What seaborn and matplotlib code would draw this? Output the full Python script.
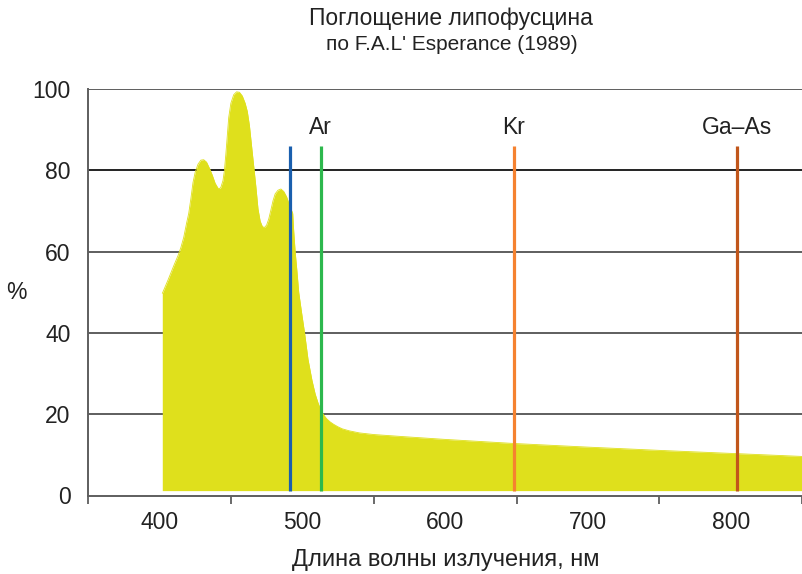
import numpy as np
import pandas as pd
import matplotlib
matplotlib.use("Agg")
import matplotlib.pyplot as plt
import seaborn as sns

# ---- data ----
wavelength = [402, 406, 410, 413, 415, 417, 419, 420.5, 422, 423.5, 425, 427, 429,
              431, 433, 435, 437, 439, 441, 442, 443, 444.5, 445.5, 446.5, 447.5,
              448.5, 450, 452, 454, 456, 458, 460, 461.5, 463, 464.5, 466, 467.5,
              469, 470.5, 472, 473.4, 475, 476.5, 478, 479.5, 481, 483, 485, 487,
              489, 491, 493.3, 494, 495, 496.3, 497.5, 499.5, 501.6, 504, 506.8,
              509, 511, 513, 515, 517, 519.5, 522, 525, 528, 533, 540, 550, 570,
              600, 648, 700, 750, 804, 850.5]
absorption = [49.7, 53, 56.5, 59, 61, 63.5, 67, 69.4, 73, 77, 79.5, 81.5, 82.5,
              82.6, 82, 80.5, 78.8, 76.8, 75.6, 75.5, 75.8, 77.5, 80, 84, 88.5,
              93, 96.5, 98.6, 99.3, 99.2, 98.3, 96.5, 94.5, 91, 86, 81, 76,
              70.5, 67.5, 66.2, 65.9, 66.5, 68, 70.2, 72.5, 74.2, 75.1, 75.4, 74.8,
              73.5, 71.5, 69.4, 65, 60, 55, 50, 45, 40, 33.5, 28.3,
              25, 22.8, 21.0, 19.8, 18.9, 18.1, 17.5, 16.9, 16.4, 15.9, 15.4, 15.0, 14.5,
              13.8, 12.8, 11.9, 11.1, 10.3, 9.6]
baseline = 1.2

laser_names = ["", "Ar", "Kr", "Ga\u2013As"]
laser_wl = [491.6, 513.0, 648.0, 804.0]
laser_colors = ["#1a5fae", "#2db84d", "#f58230", "#c1561b"]
line_top = 86
label_wl = [None, 513.0, 648.0, 804.0]

yticks = [0, 20, 40, 60, 80, 100]
xticks_major = [400, 500, 600, 700, 800]
xticks_minor = [350, 450, 550, 650, 750, 850]

title = "Поглощение липофусцина"
subtitle = "по F.A.L' Esperance (1989)"
xlabel = "Длина волны излучения, нм"
ylabel = "%"

# ---- styling ----
sns.set_theme(style="white")
plt.rcParams["font.family"] = ["Liberation Sans", "DejaVu Sans"]

fig = plt.figure(figsize=(8.03, 5.74), dpi=100)
W, H = 803, 574
ax = fig.add_axes([88 / W, 1 - 495.5 / H, (803 - 88) / W, (495.5 - 89) / H])

df = pd.DataFrame({"wl": wavelength, "abs": absorption})
fill_color = "#dfe01c"
ax.fill_between(df["wl"], baseline, df["abs"], color=fill_color, linewidth=0, zorder=2)
sns.lineplot(data=df, x="wl", y="abs", ax=ax, color=fill_color, linewidth=0.6, zorder=2)

ax.vlines(laser_wl, baseline, line_top, colors=laser_colors, linewidth=2.3, zorder=3)
for name, wl in zip(laser_names, label_wl):
    if name:
        ax.text(wl, 90.6, name, ha="center", va="center", fontsize=16.5, color="#222222")

ax.set_xlim(350, 850.5)
ax.set_ylim(0, 100)
ax.set_yticks(yticks)
ax.set_xticks(xticks_major)
ax.set_xticks(xticks_minor, minor=True)

# grid
for yv in yticks[1:]:
    ax.axhline(yv, color="#222222" if yv == 80 else "#5e5e5e", linewidth=1.4, zorder=1)

for s in ["top", "right"]:
    ax.spines[s].set_visible(False)
for s in ["left", "bottom"]:
    ax.spines[s].set_color("#5e5e5e")
    ax.spines[s].set_linewidth(1.4)

ax.tick_params(axis="both", which="both", direction="out", length=5.5, width=1.3,
               color="#5e5e5e", labelsize=16.5, labelcolor="#222222")
ax.tick_params(axis="y", pad=7)
ax.tick_params(axis="x", pad=6)
ax.tick_params(axis="x", which="minor", bottom=True)

ax.set_xlabel(xlabel, fontsize=17, color="#222222", va="center")
ax.xaxis.set_label_coords((445.5 - 88) / 715, (495.5 - 560) / 406.5)
ax.set_ylabel(ylabel, fontsize=16.5, color="#222222", rotation=0, ha="center", va="center")
ax.yaxis.set_label_coords((16 - 88) / 715, 0.5)

fig.text(451 / W, 1 - 19 / H, title, ha="center", va="center", fontsize=16.5, color="#222222")
fig.text(452 / W, 1 - 45 / H, subtitle, ha="center", va="center", fontsize=15, color="#222222")

fig.savefig("out.png", dpi=100)
